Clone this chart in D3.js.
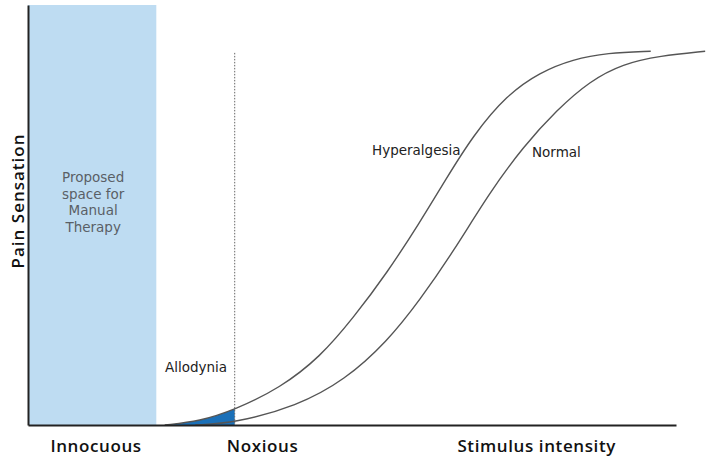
<!DOCTYPE html>
<html>
<head>
<meta charset="utf-8">
<script src="https://cdn.jsdelivr.net/npm/d3@7"></script>
<style>
  body { margin: 0; background: #fff; }
  svg { display: block; }
  .lbl { font-family: "DejaVu Sans", sans-serif; fill: #222; }
  .axlbl { font-family: "Open Sans", sans-serif; font-weight: 600; fill: #111; }
</style>
</head>
<body>
<div id="chart"></div>
<script>
// curves (stimulus 0-100, pain 0-100)
var hyperX = [21.1, 26.5, 31.9, 38.9, 45.1, 50.2, 55.4, 60.5, 64.4, 68.7, 73.9, 79.0, 84.1, 89.4, 96.1];
var hyperY = [0, 0.9, 3.6, 8.8, 16.2, 25.5, 36.2, 48.3, 58.3, 69.0, 78.6, 84.0, 87.1, 88.6, 89.0];
var normalX = [25.8, 31.9, 41.5, 48.9, 55.4, 60.5, 65.6, 71.3, 76.4, 81.6, 86.7, 91.8, 97.5, 104.5];
var normalY = [0, 0.5, 4.5, 10.7, 19.8, 29.8, 41.2, 55.5, 66.2, 75.0, 81.9, 86.0, 87.9, 89.0];
var therapyBand = [0, 19.8];
var noxiousThreshold = 31.9;
var thresholdTop = 88.6;
var therapyLines = ["Proposed", "space for", "Manual", "Therapy"];
var bottomLabels = ["Innocuous", "Noxious", "Stimulus intensity"];
var bottomLabelX = [10.5, 36.2, 78.5];

function PainChart(element, width, height) {
  var _chart = {};
  var _margins = { top: 5, right: 33, bottom: 34, left: 28 },
    _width = width || 709,
    _height = height || 459,
    _svg, _x, _y;

  _chart.render = function() {
    _svg = d3.select(element).append("svg")
      .attr("width", _width)
      .attr("height", _height);

    _x = d3.scaleLinear().domain([0, 100]).range([xStart(), xEnd()]);
    _y = d3.scaleLinear().domain([0, 100]).range([yStart(), yEnd()]);

    renderBand();
    renderArea();
    renderThreshold();
    renderCurves();
    renderAxes();
    renderLabels();
    return _chart;
  };

  function xStart() { return _margins.left; }
  function xEnd() { return _width - _margins.right; }
  function yStart() { return _height - _margins.bottom; }
  function yEnd() { return _margins.top; }

  function pts(xs, ys) {
    return xs.map(function(d, i) { return [d, ys[i]]; });
  }

  function renderBand() {
    _svg.append("rect")
      .attr("x", _x(therapyBand[0]))
      .attr("y", yEnd())
      .attr("width", _x(therapyBand[1]) - _x(therapyBand[0]))
      .attr("height", yStart() - yEnd())
      .attr("fill", "#bedcf2");

    var cx = _x((therapyBand[0] + therapyBand[1]) / 2) + 1;
    _svg.append("text")
      .attr("class", "lbl")
      .attr("text-anchor", "middle")
      .attr("font-size", 13.5)
      .style("fill", "#5a5f66")
      .selectAll("tspan")
      .data(therapyLines)
      .enter().append("tspan")
      .attr("x", cx)
      .attr("y", function(d, i) { return 182 + i * 16.7; })
      .text(function(d) { return d; });
  }

  function renderArea() {
    _svg.append("defs").append("clipPath")
      .attr("id", "allo-clip")
      .append("rect")
      .attr("x", 0).attr("y", 0)
      .attr("width", _x(noxiousThreshold))
      .attr("height", yStart());

    var area = d3.area()
      .x(function(d) { return _x(d[0]); })
      .y0(_y(0))
      .y1(function(d) { return _y(d[1]); })
      .curve(d3.curveBasis);

    _svg.append("path")
      .datum(pts(hyperX, hyperY))
      .attr("d", area)
      .attr("fill", "#1b70b8")
      .attr("clip-path", "url(#allo-clip)");
  }

  function renderThreshold() {
    _svg.append("line")
      .attr("x1", _x(noxiousThreshold)).attr("x2", _x(noxiousThreshold))
      .attr("y1", _y(thresholdTop)).attr("y2", yStart())
      .attr("stroke", "#666")
      .attr("stroke-width", 1)
      .attr("stroke-dasharray", "1.5,1.5");
  }

  function renderCurves() {
    var line = d3.line()
      .x(function(d) { return _x(d[0]); })
      .y(function(d) { return _y(d[1]); })
      .curve(d3.curveBasis);

    [pts(hyperX, hyperY), pts(normalX, normalY)].forEach(function(p) {
      _svg.append("path")
        .datum(p)
        .attr("d", line)
        .attr("fill", "none")
        .attr("stroke", "#555")
        .attr("stroke-width", 1.4);
    });
  }

  function renderAxes() {
    _svg.append("g")
      .attr("transform", "translate(0," + yStart() + ")")
      .call(d3.axisBottom(_x).ticks(0).tickSize(0).tickSizeOuter(0));
    _svg.append("g")
      .attr("transform", "translate(" + xStart() + ",0)")
      .call(d3.axisLeft(_y).ticks(0).tickSize(0).tickSizeOuter(0));
    _svg.selectAll(".domain")
      .attr("stroke", "#222")
      .attr("stroke-width", 2);
  }

  function renderLabels() {
    _svg.append("text")
      .attr("class", "axlbl")
      .attr("font-size", 17)
      .attr("letter-spacing", 1)
      .attr("text-anchor", "middle")
      .attr("transform", "translate(24,201) rotate(-90)")
      .text("Pain Sensation");

    _svg.selectAll(".blabel")
      .data(bottomLabels)
      .enter().append("text")
      .attr("class", "axlbl blabel")
      .attr("font-size", 17)
      .attr("letter-spacing", 0.6)
      .attr("text-anchor", "middle")
      .attr("x", function(d, i) { return _x(bottomLabelX[i]); })
      .attr("y", 452)
      .text(function(d) { return d; });

    _svg.append("text").attr("class", "lbl").attr("font-size", 13.5)
      .attr("x", 372).attr("y", 155).text("Hyperalgesia");
    _svg.append("text").attr("class", "lbl").attr("font-size", 13.5)
      .attr("x", 532).attr("y", 157).text("Normal");
    _svg.append("text").attr("class", "lbl").attr("font-size", 13.5)
      .attr("x", 165).attr("y", 372).text("Allodynia");
  }

  return _chart;
}

PainChart("#chart", 709, 459).render();
</script>
</body>
</html>
